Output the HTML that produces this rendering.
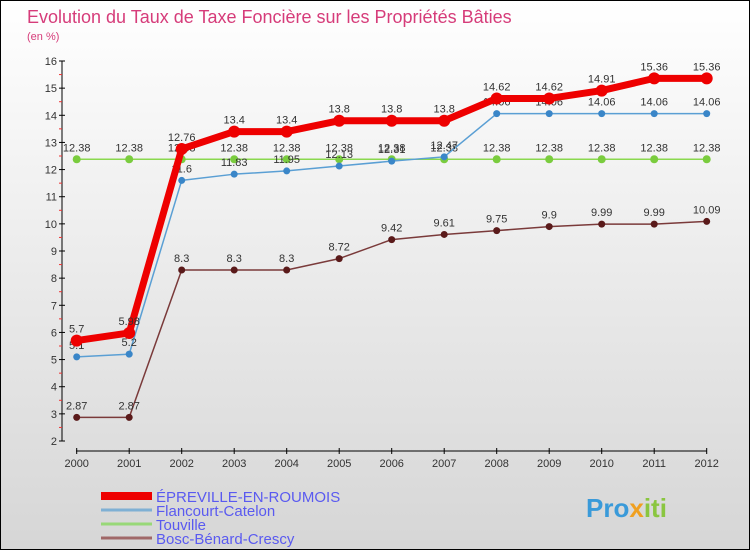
<!DOCTYPE html>
<html><head><meta charset="utf-8"><style>
body{margin:0}
#c{width:750px;height:550px;position:relative;overflow:hidden;box-sizing:border-box;border:1px solid #000;background:linear-gradient(#ffffff,#d6d6d6);font-family:"Liberation Sans",sans-serif}
</style></head><body>
<div id="c">
<svg id="s" width="750" height="550" style="position:absolute;left:0;top:0" font-family="Liberation Sans, sans-serif">
<text x="26" y="22" font-size="18" fill="#d63c7a">Evolution du Taux de Taxe Foncière sur les Propriétés Bâties</text>
<text x="26" y="39" font-size="11" fill="#d63c7a">(en %)</text>
<text x="585" y="516" font-size="26" font-weight="bold" fill="#3a9ad9">Pro<tspan fill="#f0a020">x</tspan><tspan fill="#8ac640">iti</tspan></text>
</svg>
</div>
<script>
const years=[2000,2001,2002,2003,2004,2005,2006,2007,2008,2009,2010,2011,2012];
const yTicks=[2,3,4,5,6,7,8,9,10,11,12,13,14,15,16];
const epreville=[5.7,5.98,12.76,13.4,13.4,13.8,13.8,13.8,14.62,14.62,14.91,15.36,15.36];
const flancourt=[5.1,5.2,11.6,11.83,11.95,12.13,12.31,12.47,14.06,14.06,14.06,14.06,14.06];
const touville=[12.38,12.38,12.38,12.38,12.38,12.38,12.38,12.38,12.38,12.38,12.38,12.38,12.38];
const bosc=[2.87,2.87,8.3,8.3,8.3,8.72,9.42,9.61,9.75,9.9,9.99,9.99,10.09];
const names=["ÉPREVILLE-EN-ROUMOIS","Flancourt-Catelon","Touville","Bosc-Bénard-Crescy"];
const NS="http://www.w3.org/2000/svg";
const s=document.getElementById('s');
const X=i=>75.7+i*52.5;
const Y=v=>440-(v-2)*(380/14);
function mk(t,a,p){const e=document.createElementNS(NS,t);for(const k in a)e.setAttribute(k,a[k]);(p||s).appendChild(e);return e;}
// y axis
let ax=mk('line',{x1:61,y1:60,x2:61,y2:440,stroke:'#000'});


yTicks.forEach(v=>{
 mk('line',{x1:58,x2:64,y1:Y(v),y2:Y(v),stroke:'#000'});
 if(v<16){const m=mk('line',{x1:58,x2:61,y1:Y(v+0.5),y2:Y(v+0.5),stroke:'#e33'});}
 const t=mk('text',{x:56,y:Y(v)+4,'font-size':11,fill:'#333','text-anchor':'end'});
 t.textContent=v;
 
 
});
let xa=mk('line',{x1:75,y1:450,x2:706,y2:450,stroke:'#000'});


years.forEach((y,i)=>{
 mk('line',{x1:X(i),x2:X(i),y1:447,y2:453,stroke:'#000'});
 const t=mk('text',{x:X(i),y:466,'font-size':11,fill:'#333','text-anchor':'middle'});
 t.textContent=y;
 
 
});
function series(d,col,w,r,dot,name,lab){
 const g=mk('g',{});
 
 
 mk('polyline',{points:d.map((v,i)=>X(i)+','+Y(v)).join(' '),fill:'none',stroke:col,'stroke-width':w,'stroke-linejoin':'round'},g);
 d.forEach((v,i)=>{
  const c=mk('circle',{cx:X(i),cy:Y(v),r:r,fill:dot},g);
  
  
  const t=mk('text',{x:X(i),y:Y(v)-8,'font-size':11,fill:'#333','text-anchor':'middle'},g);
  t.textContent=lab(v);
 });
}
const f=v=>String(v);
series(touville,'#8ad84e',1.5,4,'#7acc3e','series-touville',f);
series(flancourt,'#5a9fd4',1.5,3.5,'#3a86c8','series-flancourt',f);
series(bosc,'#7a3a3a',1.5,3.5,'#5a1a1a','series-bosc',f);
series(epreville,'#ee0000',7,6,'#ee0000','series-epreville',f);
// legend
const lc=['#ee0000','#7fb0d4','#98d878','#a06868'];const lw=[8,3,3,3];
names.forEach((n,i)=>{
 const y=495+i*14;
 const l=mk('line',{x1:100,x2:151,y1:y,y2:y,stroke:lc[i],'stroke-width':lw[i]});
 
 
 const t=mk('text',{x:155,y:y+6,'font-size':15,fill:'#5a5af0'});
 t.textContent=n;
 
 
});
</script>
</body></html>
